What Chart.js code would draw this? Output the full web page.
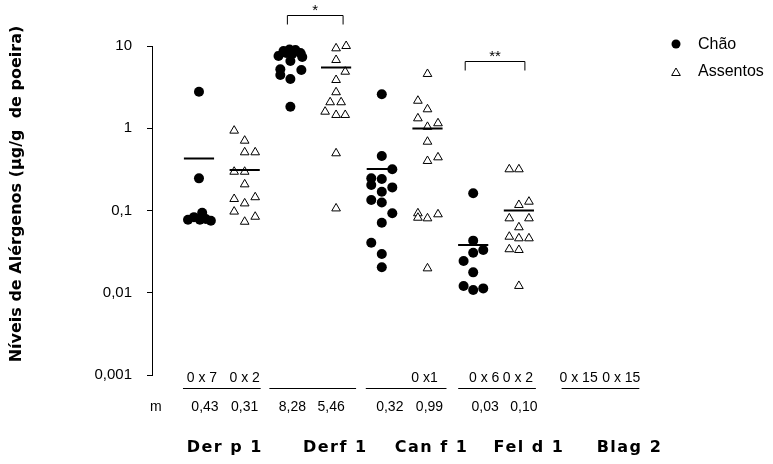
<!DOCTYPE html>
<html><head><meta charset="utf-8">
<script src="https://cdn.jsdelivr.net/npm/chart.js@4.4.0/dist/chart.umd.min.js"></script>
<style>html,body{margin:0;padding:0;background:#fff}#wrap{width:773px;height:464px;position:relative}</style>
</head><body><div id="wrap"><canvas id="c" width="773" height="464"></canvas></div>
<script>
const groups = ['Der p 1', 'Derf 1', 'Can f 1', 'Fel d 1', 'Blag 2'];
const seriesNames = ['Chão', 'Assentos'];
const yTitle = 'Níveis de Alérgenos (µg/g  de poeira)';

// each point: [value (µg/g), horizontal jitter inside its column]
const derpChao = [[2.78,0],[0.246,0],[0.077,-0.24],[0.083,-0.11],[0.094,0.07],[0.077,0.02],[0.079,0.15],[0.075,0.26]];
const derpAssentos = [[0.935,-0.23],[0.706,0],[0.51,0],[0.51,0.23],[0.296,-0.23],[0.296,0],[0.208,0],[0.138,-0.23],[0.122,0],[0.145,0.23],[0.097,-0.23],[0.073,0],[0.084,0.23]];
const derfChao = [[7.55,-0.26],[8.69,-0.15],[9.06,-0.02],[8.94,0.11],[8.22,0.22],[7.35,0.26],[6.58,0],[5.21,-0.22],[4.44,-0.22],[5.1,0.24],[3.97,0],[1.83,0],[8.22,-0.09],[8.0,0.04]];
const derfAssentos = [[9.37,0],[10.0,0.22],[6.76,0],[4.87,0.2],[3.86,0],[2.74,0],[2.07,-0.13],[2.07,0.11],[1.59,-0.24],[1.45,0],[1.45,0.2],[0.496,0],[0.106,0]];
const canfChao = [[2.59,0],[0.46,0],[0.317,0.23],[0.246,-0.23],[0.242,0],[0.204,-0.23],[0.169,0],[0.191,0.23],[0.134,-0.23],[0.125,0],[0.0925,0.23],[0.0711,0],[0.0406,-0.23],[0.0296,0],[0.0204,0]];
const canfAssentos = [[4.57,0],[2.16,-0.21],[1.70,0],[1.32,-0.21],[1.04,0],[1.15,0.23],[0.686,0],[0.40,0],[0.443,0.23],[0.0925,-0.21],[0.0817,-0.21],[0.0803,0],[0.0899,0.23],[0.0198,0]];
const feldChao = [[0.162,0],[0.043,0],[0.0307,0],[0.0331,0.22],[0.0243,-0.21],[0.0177,0],[0.0121,-0.21],[0.0108,0],[0.0113,0.22]];
const feldAssentos = [[0.317,-0.21],[0.317,0],[0.1167,0],[0.128,0.22],[0.0803,-0.21],[0.0803,0.22],[0.0625,0],[0.048,-0.21],[0.0459,0],[0.0459,0.22],[0.0338,-0.21],[0.0331,0],[0.0121,0]];
const blagChao = [];
const blagAssentos = [];

// means per column (Chão, Assentos for each allergen)
const means = [0.43, 0.31, 8.28, 5.46, 0.32, 0.99, 0.038, 0.10];
const meanText = ['0,43', '0,31', '8,28', '5,46', '0,32', '0,99', '0,03', '0,10'];
const zeroText = ['0 x 7', '0 x 2', '', '', '', '0 x1', '0 x 6', '0 x 2', '0 x 15', '0 x 15'];
const yTicks = [0.001, 0.01, 0.1, 1, 10];
const yTickLabels = ['0,001', '0,01', '0,1', '1', '10'];
const sigPairs = [[2, 3], [6, 7]];
const sigLabels = ['*', '**'];
const sigLevels = [23.8, 6.6];

const chaoSets = [derpChao, derfChao, canfChao, feldChao, blagChao];
const assentosSets = [derpAssentos, derfAssentos, canfAssentos, feldAssentos, blagAssentos];

function toPoints(sets, offset) {
  const out = [];
  sets.forEach((arr, g) => arr.forEach(([v, j]) => out.push({x: 2 * g + offset + j, y: v})));
  return out;
}
const meanLine = [];
means.forEach((m, i) => {
  meanLine.push({x: i - 0.33, y: m}, {x: i + 0.33, y: m}, {x: i + 0.4, y: null});
});

const layoutOpts = {
  zeroNudge: [3, 0, 0, 0, 0, -3, 11, -1, 14, 11],
  meanNudge: [6, 0, 2, -5, 8, 2, 12, 5],
  lineLeft: [-16, -21, -16, -15, -3],
  lineRight: [16, 20, 19, 17, 29],
  catNudge: [3, 22, 27, 33, 42],
  sigLeft: [-3, -8],
  sigRight: [7, 6]
};

const annot = {
  id: 'annot',
  afterDraw(chart) {
    const ctx = chart.ctx;
    const xs = chart.scales.x, ys = chart.scales.y;
    const px = v => xs.getPixelForValue(v);
    ctx.save();
    ctx.fillStyle = '#000'; ctx.strokeStyle = '#000';
    // y title
    ctx.save();
    ctx.translate(17, 194);
    ctx.rotate(-Math.PI / 2);
    ctx.font = 'bold 16px "DejaVu Sans"';
    ctx.textAlign = 'center'; ctx.textBaseline = 'middle';
    ctx.fillText(yTitle, 0, 0);
    ctx.restore();
    // legend
    ctx.font = '16px "Liberation Sans", Arial';
    ctx.textAlign = 'left'; ctx.textBaseline = 'middle';
    ctx.beginPath(); ctx.arc(676, 44, 4.5, 0, Math.PI * 2); ctx.fill();
    ctx.fillText(seriesNames[0], 698, 45);
    const tr = 5, tx = 676, ty = 73;
    ctx.beginPath();
    ctx.moveTo(tx, ty - tr);
    ctx.lineTo(tx + tr * Math.sin(Math.PI / 3 * 2), ty + tr / 2);
    ctx.lineTo(tx - tr * Math.sin(Math.PI / 3 * 2), ty + tr / 2);
    ctx.closePath(); ctx.lineWidth = 1; ctx.stroke();
    ctx.fillText(seriesNames[1], 698, 72);
    // zero counts
    ctx.font = '14px "Liberation Sans", Arial';
    ctx.textAlign = 'center';
    zeroText.forEach((t, i) => { if (t) ctx.fillText(t, px(i) + layoutOpts.zeroNudge[i], 378); });
    ctx.lineWidth = 1;
    groups.forEach((g, gi) => {
      ctx.beginPath();
      ctx.moveTo(px(2 * gi) + layoutOpts.lineLeft[gi], 388.5);
      ctx.lineTo(px(2 * gi + 1) + layoutOpts.lineRight[gi], 388.5);
      ctx.stroke();
    });
    ctx.textAlign = 'left';
    ctx.fillText('m', 150, 407);
    ctx.textAlign = 'center';
    meanText.forEach((t, i) => ctx.fillText(t, px(i) + layoutOpts.meanNudge[i], 407));
    // categories
    ctx.font = 'bold 16px "DejaVu Sans"';
    ctx.letterSpacing = '1.5px';
    groups.forEach((g, gi) => ctx.fillText(g, px(2 * gi + 0.5) + layoutOpts.catNudge[gi], 448));
    ctx.letterSpacing = '0px';
    // significance
    ctx.font = '15px "Liberation Sans", Arial';
    sigPairs.forEach(([a, b], k) => {
      const l = px(a) + layoutOpts.sigLeft[k], r = px(b) + layoutOpts.sigRight[k];
      const yy = Math.round(ys.getPixelForValue(sigLevels[k])) + 0.5;
      ctx.beginPath();
      ctx.moveTo(l, yy + 9); ctx.lineTo(l, yy); ctx.lineTo(r, yy); ctx.lineTo(r, yy + 9);
      ctx.stroke();
      ctx.fillText(sigLabels[k], (l + r) / 2, yy - 5);
    });
    ctx.restore();
  }
};

new Chart(document.getElementById('c'), {
  type: 'scatter',
  data: {
    datasets: [
      {label: 'Média', data: meanLine, showLine: true, borderColor: '#000', borderWidth: 2, pointRadius: 0, spanGaps: false, clip: false, order: 0},
      {label: seriesNames[0], data: toPoints(chaoSets, 0), pointStyle: 'circle', pointRadius: 5, backgroundColor: '#000', borderColor: '#000', borderWidth: 0, clip: false, order: 1},
      {label: seriesNames[1], data: toPoints(assentosSets, 1), pointStyle: 'triangle', pointRadius: 5, backgroundColor: '#fff', borderColor: '#000', borderWidth: 1, clip: false, order: 1}
    ]
  },
  options: {
    responsive: false,
    animation: false,
    events: [],
    layout: {padding: {left: 0, top: 46, right: 100, bottom: 89}},
    plugins: {legend: {display: false}, tooltip: {enabled: false}},
    scales: {
      x: {type: 'linear', display: false, min: -1.028, max: 10.372},
      y: {
        type: 'logarithmic', min: 0.001, max: 10,
        afterBuildTicks: s => { s.ticks = yTicks.map(v => ({value: v})); },
        afterFit: s => { s.width = 152; },
        ticks: {callback: (v, i) => yTickLabels[i], color: '#000', padding: 15, font: {family: '"Liberation Sans", Arial', size: 15}},
        grid: {drawOnChartArea: false, drawTicks: true, tickLength: 5, color: '#000'},
        border: {display: true, color: '#000', width: 1},
        title: {display: false}
      }
    }
  },
  plugins: [annot]
});
</script></body></html>
